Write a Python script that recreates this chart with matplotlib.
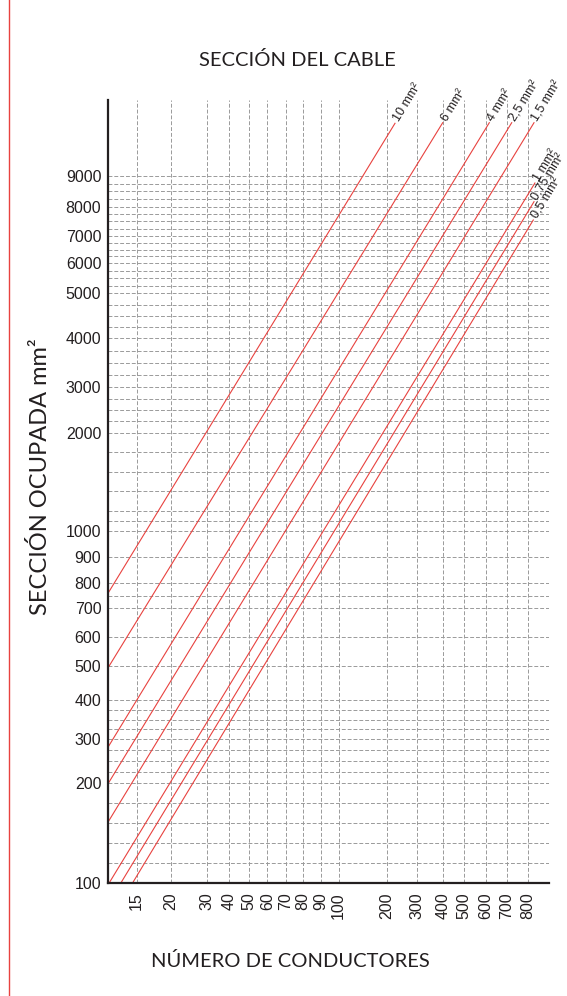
import numpy as np
import matplotlib.pyplot as plt
from matplotlib.lines import Line2D

# número de conductores (eje x) y sección ocupada (eje y)
x_ticks = [15, 20, 30, 40, 50, 60, 70, 80, 90, 100, 200, 300, 400, 500, 600, 700, 800]
y_ticks = [100, 200, 300, 400, 500, 600, 700, 800, 900, 1000,
           2000, 3000, 4000, 5000, 6000, 7000, 8000, 9000]
y_minor = [120, 140, 160, 180, 225, 250, 275, 325, 350, 375, 750,
           1100, 1200, 1400, 1600, 1800, 2250, 2500, 2750, 3250, 3500, 3750,
           4250, 4500, 4750, 5250, 5500, 5750, 6250, 6500, 6750,
           7250, 7500, 7750, 8250, 8500, 8750]

# one straight line per cable section, read at both ends
cables = ['10 mm²', '6 mm²', '4 mm²', '2,5 mm²', '1,5 mm²', '1 mm²', '0,75 mm²', '0,5 mm²']
x_start = [10, 10, 10, 10, 10, 10.18, 12.24, 14.3]
y_start = [762, 496, 282.6, 200, 161.4, 100, 100, 100]
x_end = [227.7, 400, 615.7, 722.4, 828.6, 833, 828.6, 825.2]
y_end = [10734, 10753, 10753, 10753, 10753, 8772, 8163, 7546]

# the printed chart is hand drawn: its axes are neither linear nor log,
# so the scale follows where each printed tick sits (pixels from the origin)
x_anchor = [10] + x_ticks + [900]
x_pos = [0, 28.4, 62.4, 98.4, 121.0, 140.7, 159.0, 177.4, 194.4, 212.4, 230.4,
         278.4, 308.4, 334.4, 356.0, 377.7, 398.7, 419.7, 440.7]
y_anchor = y_ticks + [11500]
y_pos = [0, 99.4, 143.7, 182.7, 216.7, 246.0, 274.4, 299.4, 326.0, 352.0,
         450.0, 495.4, 544.4, 589.4, 619.4, 646.7, 676.0, 706.7, 782.7]


def fx(v):
    return np.interp(v, x_anchor, x_pos)


def ix(p):
    return np.interp(p, x_pos, x_anchor)


def fy(v):
    return np.interp(v, y_anchor, y_pos)


def iy(p):
    return np.interp(p, y_pos, y_anchor)


red = '#e8423f'
ink = '#231f20'
grid_c = '#9a9a9a'

fig = plt.figure(figsize=(5.67, 9.96), dpi=100)
ax = fig.add_axes([108.3 / 567, 1 - 882.7 / 996, (549 - 108.3) / 567, (882.7 - 100) / 996])
ax.set_xscale('function', functions=(fx, ix))
ax.set_yscale('function', functions=(fy, iy))
ax.set_xlim(10, 900)
ax.set_ylim(100, 11500)

ax.set_xticks(x_ticks)
ax.set_xticklabels([str(v) for v in x_ticks], rotation=90, fontfamily='Liberation Sans',
                   fontsize=11.5, color=ink)
ax.xaxis.set_minor_locator(plt.NullLocator())
ax.set_yticks(y_ticks)
ax.set_yticklabels([str(v) for v in y_ticks], fontfamily='Liberation Sans',
                   fontsize=11.5, color=ink)
ax.set_yticks(y_minor, minor=True)
ax.tick_params(which='both', length=0)
ax.tick_params(axis='x', pad=7)
ax.tick_params(axis='y', pad=5)

ax.grid(True, which='both', color=grid_c, lw=0.7, ls=(0, (4, 2)))
ax.set_axisbelow(True)
for s in ['top', 'right']:
    ax.spines[s].set_visible(False)
for s in ['left', 'bottom']:
    ax.spines[s].set_linewidth(1.6)
    ax.spines[s].set_color(ink)

for name, x0, y0, x1, y1 in zip(cables, x_start, y_start, x_end, y_end):
    ax.plot([x0, x1], [y0, y1], color=red, lw=0.8, clip_on=False)
    p0 = ax.transData.transform((x0, y0))
    p1 = ax.transData.transform((x1, y1))
    ang = np.degrees(np.arctan2(p1[1] - p0[1], p1[0] - p0[0]))
    ax.annotate(name, (x1, y1),
                xytext=(2 * np.cos(np.radians(ang)), 2 * np.sin(np.radians(ang))),
                textcoords='offset points', rotation=ang, rotation_mode='anchor',
                ha='left', va='center', fontsize=9, fontfamily='Liberation Sans',
                color=ink, annotation_clip=False)

fig.text(297 / 567, 1 - 60 / 996, 'SECCIÓN DEL CABLE', ha='center', va='center',
         fontsize=14.5, fontfamily='Lato', color=ink)
fig.text(290 / 567, 1 - 961 / 996, 'NÚMERO DE CONDUCTORES', ha='center', va='center',
         fontsize=14.5, fontfamily='Lato', color=ink)
fig.text(40 / 567, 1 - 477 / 996, 'SECCIÓN OCUPADA mm²', ha='center', va='center',
         rotation=90, fontsize=17, fontfamily='Lato', color=ink)

fig.add_artist(Line2D([9 / 567, 9 / 567], [0, 1], color=red, lw=1,
                      transform=fig.transFigure))

fig.savefig('out.png', dpi=100)
